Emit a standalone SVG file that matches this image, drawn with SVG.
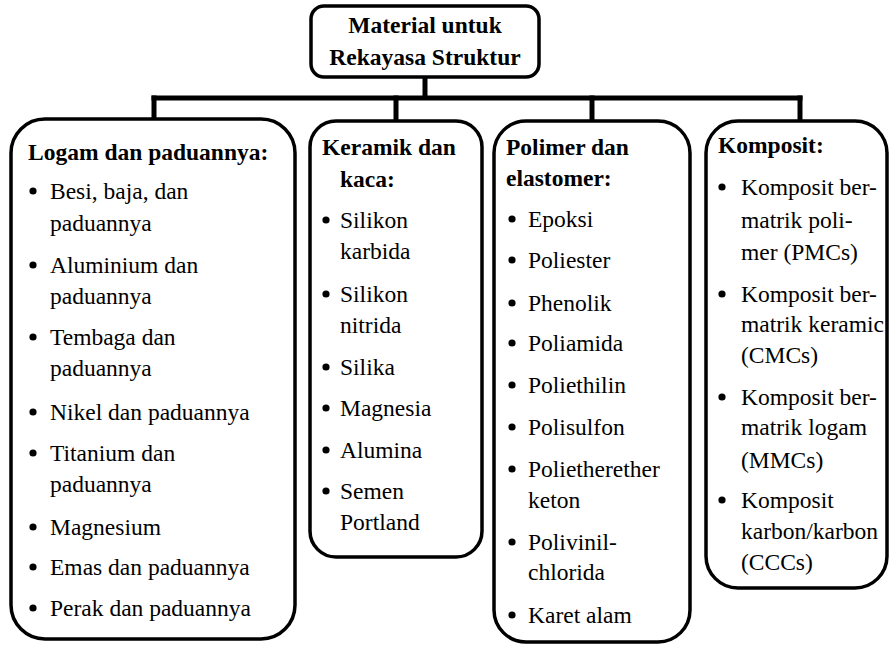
<svg xmlns="http://www.w3.org/2000/svg" width="890" height="646" viewBox="0 0 890 646">
<style>
.box{fill:#fff;stroke:#000;stroke-width:3.5}
.con{stroke:#000;stroke-width:5;fill:none;stroke-linecap:square}
text{font-family:'Liberation Serif','Times New Roman',Times,'DejaVu Serif',serif;font-size:23.5px;fill:#000}
.h{font-weight:bold}
.t{text-anchor:middle}
circle{fill:#000}
</style>
<rect width="890" height="646" fill="#fff"/>
<g id="connectors">
<line class="con" x1="425" y1="77" x2="425" y2="97"/>
<line class="con" x1="154" y1="98" x2="800" y2="98"/>
<line class="con" x1="154" y1="98" x2="154" y2="117"/>
<line class="con" x1="396" y1="98" x2="396" y2="119"/>
<line class="con" x1="592" y1="98" x2="592" y2="119"/>
<line class="con" x1="800" y1="98" x2="800" y2="119"/>
</g>
<g font-family="Liberation Serif, Times New Roman, serif">
<g id="root">
<rect class="box" x="311" y="6" width="228" height="71" rx="13"/>
<text class="h t" x="425" y="33">Material untuk</text>
<text class="h t" x="425" y="65">Rekayasa Struktur</text>
</g>
<g id="logam">
<rect class="box" x="11" y="119" width="284" height="520" rx="34"/>
<text class="h" x="28" y="160">Logam dan paduannya:</text>
<circle cx="33" cy="191" r="3.6"/><text x="50" y="199">Besi, baja, dan</text>
<text x="50" y="231">paduannya</text>
<circle cx="33" cy="265" r="3.6"/><text x="50" y="273">Aluminium dan</text>
<text x="50" y="304">paduannya</text>
<circle cx="33" cy="337" r="3.6"/><text x="50" y="345">Tembaga dan</text>
<text x="50" y="376">paduannya</text>
<circle cx="33" cy="412" r="3.6"/><text x="50" y="420">Nikel dan paduannya</text>
<circle cx="33" cy="453" r="3.6"/><text x="50" y="461">Titanium dan</text>
<text x="50" y="492">paduannya</text>
<circle cx="33" cy="527" r="3.6"/><text x="50" y="535">Magnesium</text>
<circle cx="33" cy="567" r="3.6"/><text x="50" y="575">Emas dan paduannya</text>
<circle cx="33" cy="608" r="3.6"/><text x="50" y="616">Perak dan paduannya</text>
</g>
<g id="keramik">
<rect class="box" x="310" y="121" width="172" height="436" rx="26"/>
<text class="h" x="322" y="155">Keramik dan</text>
<text class="h" x="340" y="187">kaca:</text>
<circle cx="326" cy="220" r="3.6"/><text x="340" y="228">Silikon</text>
<text x="340" y="259">karbida</text>
<circle cx="326" cy="294" r="3.6"/><text x="340" y="302">Silikon</text>
<text x="340" y="333">nitrida</text>
<circle cx="326" cy="367" r="3.6"/><text x="340" y="375">Silika</text>
<circle cx="326" cy="408" r="3.6"/><text x="340" y="416">Magnesia</text>
<circle cx="326" cy="450" r="3.6"/><text x="340" y="458">Alumina</text>
<circle cx="326" cy="491" r="3.6"/><text x="340" y="499">Semen</text>
<text x="340" y="530">Portland</text>
</g>
<g id="polimer">
<rect class="box" x="494" y="121" width="196" height="521" rx="32"/>
<text class="h" x="506" y="155">Polimer dan</text>
<text class="h" x="506" y="186">elastomer:</text>
<circle cx="512" cy="219" r="3.6"/><text x="528" y="227">Epoksi</text>
<circle cx="512" cy="260" r="3.6"/><text x="528" y="268">Poliester</text>
<circle cx="512" cy="303" r="3.6"/><text x="528" y="311">Phenolik</text>
<circle cx="512" cy="343" r="3.6"/><text x="528" y="351">Poliamida</text>
<circle cx="512" cy="385" r="3.6"/><text x="528" y="393">Poliethilin</text>
<circle cx="512" cy="427" r="3.6"/><text x="528" y="435">Polisulfon</text>
<circle cx="512" cy="469" r="3.6"/><text x="528" y="477">Polietherether</text>
<text x="528" y="508">keton</text>
<circle cx="512" cy="542" r="3.6"/><text x="528" y="550">Polivinil-</text>
<text x="528" y="580">chlorida</text>
<circle cx="512" cy="615" r="3.6"/><text x="528" y="623">Karet alam</text>
</g>
<g id="komposit">
<rect class="box" x="706" y="121" width="181" height="467" rx="32"/>
<text class="h" x="718" y="153">Komposit:</text>
<circle cx="722" cy="187" r="3.6"/><text x="741" y="195">Komposit ber-</text>
<text x="741" y="228">matrik poli-</text>
<text x="741" y="260">mer (PMCs)</text>
<circle cx="722" cy="294" r="3.6"/><text x="741" y="302">Komposit ber-</text>
<text x="741" y="332">matrik keramic</text>
<text x="741" y="363">(CMCs)</text>
<circle cx="722" cy="397" r="3.6"/><text x="741" y="405">Komposit ber-</text>
<text x="741" y="435">matrik logam</text>
<text x="741" y="468">(MMCs)</text>
<circle cx="722" cy="500" r="3.6"/><text x="741" y="508">Komposit</text>
<text x="741" y="539">karbon/karbon</text>
<text x="741" y="570">(CCCs)</text>
</g>
</g>
</svg>
